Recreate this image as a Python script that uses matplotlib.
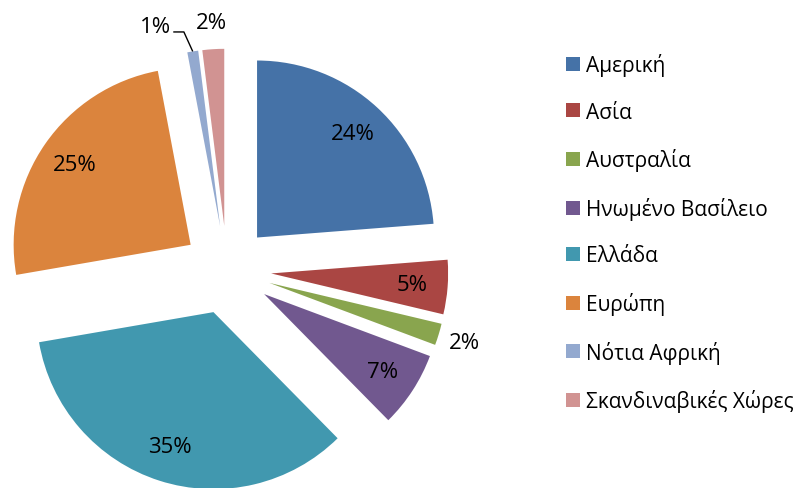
import numpy as np
import matplotlib
matplotlib.use("Agg")
import matplotlib.pyplot as plt

categories = ["Αμερική", "Ασία", "Αυστραλία", "Ηνωμένο Βασίλειο", "Ελλάδα",
              "Ευρώπη", "Νότια Αφρική", "Σκανδιναβικές Χώρες"]
values = [24, 5, 2, 7, 35, 25, 1, 2]
pct_labels = ["24%", "5%", "2%", "7%", "35%", "25%", "1%", "2%"]
colors = ["#4572A7", "#AA4643", "#89A54E", "#71588F", "#4198AF",
          "#DB843D", "#93A9CF", "#D19392"]
outside = [False, False, True, False, False, False, True, True]

plt.rcParams['font.family'] = ['Open Sans', 'DejaVu Sans']

W, H = 797, 489
fig = plt.figure(figsize=(W / 100, H / 100), dpi=100)
ax = fig.add_axes([0, 0, 1, 1])

cx, cy, rpx = 227, 271, 177
explode_frac = 0.25
wedges, _ = ax.pie(values, colors=colors, startangle=90, counterclock=False,
                   explode=[explode_frac] * len(values), radius=1.0,
                   wedgeprops=dict(linewidth=0))

ax.set_aspect('auto')
ax.set_xlim(-cx / rpx, (W - cx) / rpx)
ax.set_ylim(-(H - cy) / rpx, cy / rpx)
ax.axis('off')

fs = 16
for i, w in enumerate(wedges):
    ang = np.deg2rad((w.theta1 + w.theta2) / 2)
    d = np.array([np.cos(ang), np.sin(ang)])
    c = np.array(w.center)
    if not outside[i]:
        p = c + 0.80 * d
        ax.text(p[0], p[1], pct_labels[i], ha='center', va='center', fontsize=fs, color='black')
    elif categories[i] == "Νότια Αφρική":
        tip = c + 1.0 * d
        elbow = tip + np.array([-0.05, 0.11])
        start = elbow + np.array([-0.06, 0.0])
        ax.plot([start[0], elbow[0], tip[0]], [start[1], elbow[1], tip[1]],
                color='black', lw=1.0, solid_capstyle='butt')
        ax.text(start[0] - 0.01, start[1] + 0.03, pct_labels[i], ha='right', va='center',
                fontsize=fs, color='black')
    else:
        p = c + 1.15 * d
        ax.text(p[0], p[1], pct_labels[i], ha='center', va='center', fontsize=fs, color='black')

leg = ax.legend(wedges, categories, loc='upper left', bbox_to_anchor=(566 / W, 1 - 54 / H),
                bbox_transform=fig.transFigure, frameon=False, fontsize=15,
                handlelength=0.65, handleheight=0.65, handletextpad=0.3,
                labelspacing=1.23, borderaxespad=0, borderpad=0)

fig.savefig("out.png", dpi=100)
